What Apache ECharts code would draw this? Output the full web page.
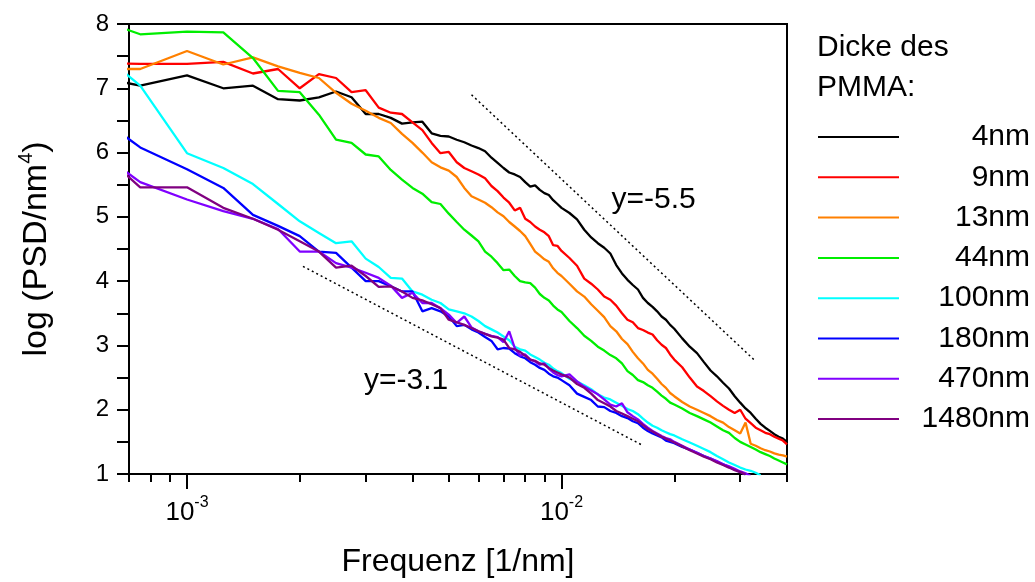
<!DOCTYPE html>
<html>
<head>
<meta charset="utf-8">
<script src="https://cdn.jsdelivr.net/npm/echarts@6/dist/echarts.min.js"></script>
<style>
  html, body { margin: 0; background: #fff; }
  #chart { width: 1035px; height: 582px; }
</style>
</head>
<body>
<div id="chart"></div>
<script>
// frequencies [1/nm] of the PSD bins
const freq = [
  0.0005, 0.00075, 0.001, 0.00125, 0.0015, 0.00175, 0.002, 0.00225, 0.0025, 0.00275,
  0.003, 0.00325, 0.0035, 0.00375, 0.004, 0.00425, 0.0045, 0.00475, 0.005, 0.00525,
  0.0055, 0.00575, 0.006, 0.00625, 0.0065, 0.00675, 0.007, 0.00725, 0.0075, 0.00775,
  0.008, 0.00825, 0.0085, 0.00875, 0.009, 0.00925, 0.0095, 0.00975, 0.01,
  0.0105, 0.011, 0.0115, 0.012, 0.0125, 0.013, 0.0135, 0.014, 0.0145, 0.015,
  0.0155, 0.016, 0.0165, 0.017, 0.0175, 0.018, 0.0185, 0.019, 0.0195, 0.02,
  0.021, 0.022, 0.023, 0.024, 0.025, 0.026, 0.027, 0.028, 0.029, 0.03,
  0.031, 0.032, 0.033, 0.034, 0.035, 0.036, 0.037, 0.038, 0.039, 0.04
];

const thickness = ['4nm', '9nm', '13nm', '44nm', '100nm', '180nm', '470nm', '1480nm'];

// log(PSD/nm^4) per film thickness, same order as freq
const psd4 = [
  7.25, 7.04, 7.20, 7.00, 7.04, 6.83, 6.81, 6.86, 6.95, 6.86,
  6.60, 6.60, 6.54, 6.45, 6.47, 6.48, 6.30, 6.26, 6.25, 6.20,
  6.16, 6.11, 6.07, 6.02, 5.92, 5.84, 5.76, 5.69, 5.66, 5.62,
  5.54, 5.47, 5.49, 5.42, 5.37, 5.34, 5.26, 5.20, 5.14,
  5.06, 4.96, 4.80, 4.68, 4.59, 4.52, 4.43, 4.25, 4.12, 4.02,
  3.94, 3.87, 3.74, 3.66, 3.60, 3.53, 3.45, 3.40, 3.32, 3.26,
  3.11, 2.98, 2.88, 2.74, 2.61, 2.52, 2.42, 2.33, 2.21, 2.11,
  2.02, 1.95, 1.86, 1.78, 1.72, 1.67, 1.62, 1.58, 1.55, 1.50
];
const psd9 = [
  7.40, 7.38, 7.38, 7.41, 7.23, 7.30, 7.00, 7.22, 7.16, 6.94,
  6.97, 6.70, 6.62, 6.60, 6.47, 6.35, 6.15, 5.99, 6.01, 5.85,
  5.76, 5.71, 5.66, 5.60, 5.48, 5.40, 5.30, 5.22, 5.10, 5.14,
  4.97, 4.92, 4.85, 4.80, 4.76, 4.70, 4.56, 4.55, 4.47,
  4.36, 4.24, 4.04, 3.96, 3.87, 3.76, 3.71, 3.62, 3.50, 3.40,
  3.36, 3.27, 3.24, 3.20, 3.17, 3.08, 3.01, 2.96, 2.86, 2.78,
  2.66, 2.50, 2.36, 2.29, 2.21, 2.13, 2.06, 2.00, 1.95, 2.00,
  1.86, 1.79, 1.72, 1.68, 1.64, 1.62, 1.58, 1.55, 1.52, 1.46
];
const psd13 = [
  7.30, 7.30, 7.58, 7.37, 7.48, 7.34, 7.24, 7.16, 6.93, 6.76,
  6.65, 6.54, 6.46, 6.29, 6.15, 6.00, 5.85, 5.77, 5.72, 5.62,
  5.45, 5.32, 5.27, 5.22, 5.15, 5.07, 5.01, 4.92, 4.85, 4.78,
  4.70, 4.58, 4.46, 4.40, 4.34, 4.30, 4.20, 4.13, 4.08,
  3.96, 3.84, 3.76, 3.64, 3.54, 3.44, 3.30, 3.22, 3.10, 3.02,
  2.90, 2.80, 2.72, 2.62, 2.56, 2.48, 2.40, 2.34, 2.26, 2.21,
  2.12, 2.05, 2.00, 1.95, 1.90, 1.84, 1.80, 1.73, 1.68, 1.63,
  1.80, 1.47, 1.44, 1.40, 1.37, 1.35, 1.32, 1.30, 1.29, 1.27
];
const psd44 = [
  8.20, 7.84, 7.88, 7.87, 7.47, 6.96, 6.94, 6.59, 6.20, 6.15,
  5.97, 5.94, 5.73, 5.58, 5.45, 5.36, 5.23, 5.20, 5.05, 4.92,
  4.80, 4.71, 4.62, 4.46, 4.38, 4.28, 4.17, 4.18, 4.08, 4.00,
  3.98, 3.97, 3.90, 3.80, 3.74, 3.70, 3.62, 3.56, 3.52,
  3.38, 3.27, 3.15, 3.07, 2.98, 2.92, 2.85, 2.80, 2.72, 2.60,
  2.54, 2.46, 2.43, 2.38, 2.34, 2.28, 2.22, 2.17, 2.11, 2.08,
  2.02, 1.95, 1.90, 1.85, 1.80, 1.74, 1.68, 1.64, 1.56, 1.50,
  1.46, 1.42, 1.38, 1.34, 1.31, 1.28, 1.24, 1.21, 1.18, 1.15
];
const psd100 = [
  7.90, 7.04, 5.99, 5.76, 5.51, 5.20, 4.93, 4.75, 4.59, 4.62,
  4.35, 4.22, 4.05, 4.04, 3.84, 3.79, 3.71, 3.66, 3.56, 3.53,
  3.50, 3.45, 3.38, 3.30, 3.25, 3.20, 3.14, 3.08, 2.98, 2.94,
  2.92, 2.86, 2.82, 2.78, 2.73, 2.70, 2.64, 2.60, 2.57,
  2.48, 2.44, 2.38, 2.32, 2.24, 2.19, 2.16, 2.11, 2.06, 2.01,
  1.98, 1.93, 1.86, 1.80, 1.75, 1.72, 1.68, 1.65, 1.62, 1.60,
  1.54, 1.49, 1.44, 1.39, 1.34, 1.28, 1.23, 1.18, 1.14, 1.10,
  1.07, 1.05, 1.02, 0.98, null, null, null, null, null, null
];
const psd180 = [
  6.83, 6.08, 5.74, 5.45, 5.03, 4.86, 4.70, 4.46, 4.44, 4.21,
  4.00, 4.00, 3.92, 3.84, 3.84, 3.53, 3.58, 3.53, 3.45, 3.30,
  3.32, 3.25, 3.20, 3.13, 3.07, 2.94, 2.96, 2.95, 2.88, 2.83,
  2.80, 2.74, 2.70, 2.65, 2.62, 2.56, 2.52, 2.50, 2.46,
  2.38, 2.25, 2.20, 2.15, 2.05, 2.04, 1.98, 1.95, 1.90, 1.87,
  1.82, 1.79, 1.72, 1.67, 1.63, 1.60, 1.57, 1.52, 1.50, 1.48,
  1.42, 1.38, 1.33, 1.28, 1.24, 1.19, 1.15, 1.11, 1.07, 1.03,
  0.99, null, null, null, null, null, null, null, null, null
];
const psd470 = [
  6.29, 5.54, 5.27, 5.09, 4.97, 4.81, 4.46, 4.46, 4.28, 4.21,
  4.13, 4.05, 3.93, 3.74, 3.82, 3.66, 3.66, 3.58, 3.48, 3.35,
  3.45, 3.28, 3.22, 3.18, 3.15, 3.13, 3.05, 3.22, 2.96, 2.84,
  2.86, 2.78, 2.75, 2.70, 2.72, 2.64, 2.58, 2.54, 2.52,
  2.55, 2.44, 2.36, 2.30, 2.24, 2.16, 2.08, 2.05, 2.10, 1.96,
  1.90, 1.85, 1.78, 1.72, 1.67, 1.63, 1.59, 1.56, 1.54, 1.50,
  1.44, 1.38, 1.33, 1.28, 1.24, 1.20, 1.15, 1.12, 1.08, 1.04,
  1.01, 0.97, null, null, null, null, null, null, null, null
];
const psd1480 = [
  6.37, 5.46, 5.46, 5.14, 4.97, 4.80, 4.62, 4.46, 4.21, 4.24,
  4.08, 3.91, 3.92, 3.84, 3.74, 3.70, 3.64, 3.58, 3.40, 3.36,
  3.32, 3.27, 3.22, 3.18, 3.14, 3.12, 3.09, 2.96, 2.94, 2.90,
  2.84, 2.78, 2.76, 2.72, 2.70, 2.65, 2.61, 2.58, 2.55,
  2.50, 2.40, 2.34, 2.25, 2.15, 2.10, 2.05, 1.98, 1.94, 1.90,
  1.86, 1.82, 1.76, 1.70, 1.66, 1.62, 1.58, 1.55, 1.52, 1.49,
  1.43, 1.37, 1.32, 1.27, 1.23, 1.18, 1.14, 1.10, 1.06, 1.03,
  0.99, null, null, null, null, null, null, null, null, null
];

// guide lines with their slopes
const slopeSteep = [[0.00575, 6.90], [0.0329, 2.76]];
const slopeFlat = [[0.00204, 4.23], [0.01653, 1.44]];
const slopeNotes = [
  { text: 'y=-5.5', at: [0.0136, 5.27] },
  { text: 'y=-3.1', at: [0.00297, 2.45] }
];

// axis ticks
const majorTicks = [0.001, 0.01];
const majorExponents = ['-3', '-2'];
const minorTicks = [
  0.0007, 0.0008, 0.0009, 0.002, 0.003, 0.004, 0.005, 0.006, 0.007, 0.008, 0.009,
  0.02, 0.03, 0.04
];

const allSeries = [psd4, psd9, psd13, psd44, psd100, psd180, psd470, psd1480];
const colors = ['#000000', '#ff0000', '#ff8000', '#00ee00', '#00ffff', '#0000ff', '#8000ff', '#800080'];
const font = '"Liberation Sans", Arial, sans-serif';

const chart = echarts.init(document.getElementById('chart'), null, { renderer: 'canvas' });

const toPairs = (vals) =>
  vals.map((v, i) => [freq[i], v]).filter((p) => p[1] !== null);

const lineSeries = allSeries.map((vals, i) => ({
  name: thickness[i],
  type: 'line',
  data: toPairs(vals),
  symbol: 'none',
  color: colors[i],
  lineStyle: { color: colors[i], width: 2.3 },
  clip: true,
  z: 3 + i,
}));

const guideSeries = [slopeSteep, slopeFlat].map((d) => ({
  type: 'line',
  data: d,
  symbol: 'none',
  silent: true,
  lineStyle: { color: '#000', width: 1.5, type: [2, 3] },
  z: 2,
}));

const noteSeries = {
  type: 'scatter',
  symbolSize: 0,
  silent: true,
  itemStyle: { opacity: 1 },
  data: slopeNotes.map((n) => ({ value: n.at, name: n.text })),
  label: {
    show: true,
    position: 'right',
    distance: 0,
    formatter: (p) => p.name,
    color: '#000',
    opacity: 1,
    fontFamily: font,
    fontSize: 30,
  },
};

chart.setOption({
  animation: false,
  backgroundColor: '#fff',
  title: {
    text: 'Dicke des\nPMMA:',
    left: 812,
    top: 23,
    textStyle: {
      fontFamily: font,
      fontSize: 30,
      fontWeight: 'normal',
      color: '#000',
      lineHeight: 40,
    },
  },
  legend: {
    orient: 'vertical',
    left: 812,
    top: 117,
    itemWidth: 81,
    itemHeight: 14,
    itemGap: 10.3,
    data: thickness,
    itemStyle: { opacity: 0 },
    formatter: '{r|{name}}',
    textStyle: {
      rich: {
        r: {
          width: 126,
          align: 'right',
          fontFamily: font,
          fontSize: 30,
          lineHeight: 28,
          color: '#000',
        },
      },
    },
  },
  grid: {
    left: 129,
    right: 248,
    top: 24,
    bottom: 108,
    show: true,
    borderColor: '#000',
    borderWidth: 2,
    backgroundColor: 'transparent',
    containLabel: false,
    outerBoundsMode: 'none',
  },
  xAxis: [
    {
      type: 'log',
      logBase: 10,
      min: 0.0007,
      max: 0.04,
      position: 'bottom',
      name: 'Frequenz [1/nm]',
      nameLocation: 'middle',
      nameGap: 72,
      nameTextStyle: { fontFamily: font, fontSize: 32, color: '#000' },
      axisLine: { lineStyle: { color: '#000', width: 2 } },
      axisTick: {
        customValues: majorTicks,
        length: 15,
        lineStyle: { color: '#000', width: 2 },
      },
      axisLabel: {
        customValues: majorTicks,
        margin: 21,
        formatter: (v) => {
          const i = majorTicks.findIndex((t) => Math.abs(t - v) / t < 1e-6);
          return '{b|10}{s|' + majorExponents[i] + '}';
        },
        rich: {
          b: { fontFamily: font, fontSize: 26, lineHeight: 36, color: '#000' },
          s: { fontFamily: font, fontSize: 16, lineHeight: 16, verticalAlign: 'top', color: '#000' },
        },
      },
      splitLine: { show: false },
    },
    {
      type: 'log',
      logBase: 10,
      min: 0.0007,
      max: 0.04,
      position: 'bottom',
      offset: 0,
      axisLine: { show: false },
      axisTick: {
        customValues: minorTicks,
        length: 8,
        lineStyle: { color: '#000', width: 2 },
      },
      axisLabel: { show: false },
      splitLine: { show: false },
    },
  ],
  yAxis: {
    type: 'value',
    min: 1,
    max: 8,
    interval: 1,
    name: '{a|log (PSD/nm}{s|4}{a|)}',
    nameLocation: 'middle',
    nameGap: 71,
    nameTextStyle: {
      rich: {
        a: { fontFamily: font, fontSize: 34, lineHeight: 42, color: '#000' },
        s: { fontFamily: font, fontSize: 20, lineHeight: 20, verticalAlign: 'top', color: '#000' },
      },
    },
    axisLine: { show: true, lineStyle: { color: '#000', width: 2 } },
    axisTick: { show: true, length: 12, lineStyle: { color: '#000', width: 2 } },
    minorTick: { show: true, splitNumber: 2, length: 12, lineStyle: { color: '#000', width: 2 } },
    axisLabel: { margin: 20, fontFamily: font, fontSize: 24, color: '#000' },
    splitLine: { show: false },
    minorSplitLine: { show: false },
  },
  series: [...guideSeries, ...lineSeries, noteSeries],
});

window.addEventListener('resize', () => chart.resize());
</script>
</body>
</html>
